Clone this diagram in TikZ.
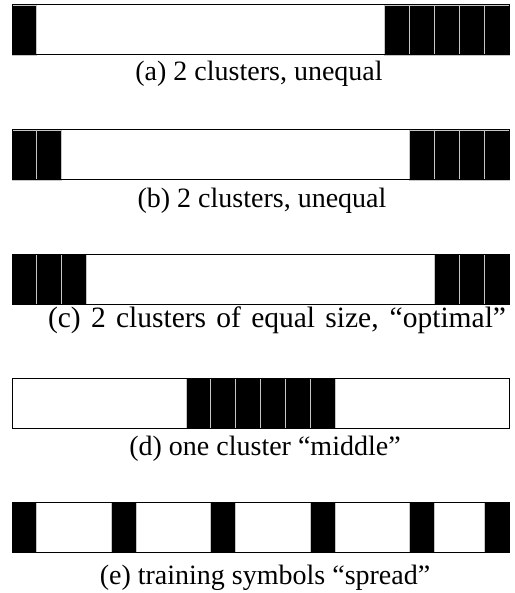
\documentclass[tikz,border=0pt]{standalone}
\usepackage{fontspec}
\setmainfont{Liberation Serif}
\begin{document}
\begin{tikzpicture}[x=1pt,y=-1pt,
  frame/.style={draw=black,line width=1pt},
  cell/.style={fill=black,draw=gray!45,line width=0.8pt},
  captext/.style={anchor=base,font=\fontsize{28}{33}\selectfont,inner sep=0pt}]
\useasboundingbox (0,0) rectangle (514,593);
\def\L{12}
\def\R{509}
\def\W{24.85}
\foreach \top/\cells/\txt/\nm/\cx/\by in {
  5/{0,15,16,17,18,19}/{(a) 2 clusters, unequal}/a/259/81,
  130/{0,1,16,17,18,19}/{(b) 2 clusters, unequal}/b/262/208,
  254/{0,1,2,17,18,19}/{\fontsize{29.5}{34}\selectfont\makebox[458pt][s]{(c) 2 clusters of equal size, “optimal”}}/c/277/327,
  378/{7,8,9,10,11,12}/{(d) one cluster “middle”}/d/265/455,
  502/{0,4,8,12,16,19}/{(e) training symbols “spread”}/e/265/584}{
  \foreach \c in \cells {
    \filldraw[cell] (\L+\c*\W,\top) rectangle (\L+\c*\W+\W,\top+50);
  }
  \draw[frame] (\L,\top) rectangle (\R,\top+50);
  \node[captext] (lab\nm) at (\cx,\by) {\txt};
}
\end{tikzpicture}
\end{document}
